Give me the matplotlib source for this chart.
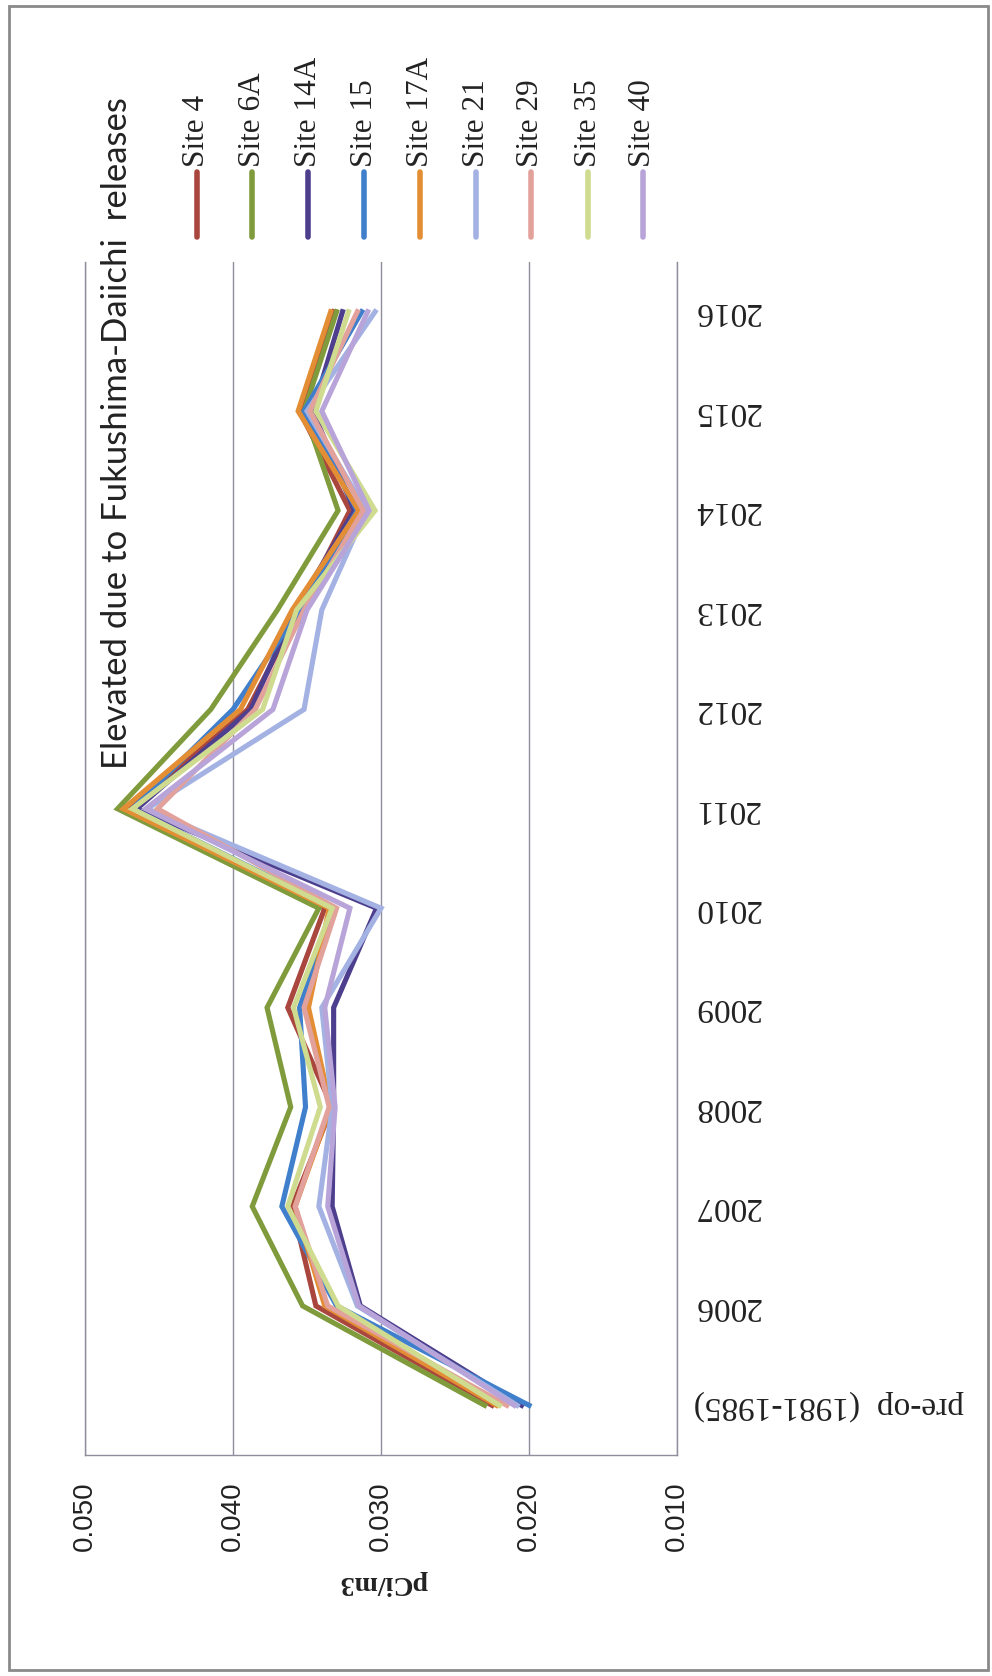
import numpy as np
import matplotlib.pyplot as plt
from matplotlib.lines import Line2D
from matplotlib.patches import Rectangle

years = ['pre-op  (1981-1985)', '2006', '2007', '2008', '2009', '2010',
         '2011', '2012', '2013', '2014', '2015', '2016']
sites = ['Site 4', 'Site 6A', 'Site 14A', 'Site 15', 'Site 17A',
         'Site 21', 'Site 29', 'Site 35', 'Site 40']
colors = ['#A9473F', '#7F9B3C', '#4E3F8E', '#3F7FCC', '#E38D35',
          '#A3B2E3', '#E2A19A', '#CFDC90', '#B8A4D8']

# pCi/m3, one list per site, pre-op .. 2016
site_4   = [0.0225, 0.0344, 0.0360, 0.0333, 0.0363, 0.0338, 0.0470, 0.0390, 0.0355, 0.0321, 0.0355, 0.0332]
site_6a  = [0.0230, 0.0353, 0.0387, 0.0361, 0.0377, 0.0342, 0.0478, 0.0415, 0.0370, 0.0329, 0.0352, 0.0330]
site_14a = [0.0205, 0.0314, 0.0333, 0.0332, 0.0332, 0.0303, 0.0465, 0.0388, 0.0358, 0.0318, 0.0346, 0.0326]
site_15  = [0.0200, 0.0330, 0.0367, 0.0351, 0.0355, 0.0332, 0.0468, 0.0400, 0.0355, 0.0316, 0.0352, 0.0313]
site_17a = [0.0222, 0.0338, 0.0358, 0.0334, 0.0349, 0.0335, 0.0474, 0.0395, 0.0360, 0.0315, 0.0356, 0.0334]
site_21  = [0.0208, 0.0316, 0.0342, 0.0333, 0.0340, 0.0300, 0.0458, 0.0352, 0.0340, 0.0310, 0.0350, 0.0304]
site_29  = [0.0215, 0.0336, 0.0358, 0.0335, 0.0352, 0.0330, 0.0451, 0.0385, 0.0352, 0.0312, 0.0348, 0.0316]
site_35  = [0.0220, 0.0329, 0.0363, 0.0341, 0.0359, 0.0333, 0.0468, 0.0380, 0.0357, 0.0304, 0.0344, 0.0322]
site_40  = [0.0210, 0.0315, 0.0336, 0.0331, 0.0338, 0.0321, 0.0459, 0.0373, 0.0350, 0.0308, 0.0340, 0.0309]
values = [site_4, site_6a, site_14a, site_15, site_17a, site_21, site_29, site_35, site_40]

xticks = [0.050, 0.040, 0.030, 0.020, 0.010]
xticklabels = ['0.050', '0.040', '0.030', '0.020', '0.010']

W, H = 992, 1676
fig = plt.figure(figsize=(W / 100, H / 100), dpi=100)
ax = fig.add_axes([85 / W, 1 - 1455 / H, (677 - 85) / W, (1455 - 262) / H])

pos = np.arange(len(years))
for v, c in zip(values, colors):
    ax.plot(v, pos, '-', color=c, linewidth=3.7, solid_joinstyle='miter')

ax.set_xlim(0.050, 0.010)
ax.set_ylim(-0.5, len(years) - 0.5)

gc = '#8e8e9c'
ax.set_xticks(xticks)
ax.set_xticklabels(xticklabels, rotation=90, va='top', ha='center',
                   fontsize=20, family='Liberation Sans', color='#222222')
ax.tick_params(axis='x', length=0, pad=19)
ax.grid(axis='x', color=gc, linewidth=1.0)
ax.set_axisbelow(True)

ax.yaxis.tick_right()
ax.set_yticks(pos)
ax.set_yticklabels(years, rotation=180, va='center', ha='left',
                   fontsize=24, family='Liberation Serif', color='#222222')
ax.tick_params(axis='y', length=0, pad=12)

ax.spines['top'].set_visible(False)
for s in ['left', 'right', 'bottom']:
    ax.spines[s].set_color(gc)
    ax.spines[s].set_linewidth(1.0)

# value axis title (upside down in the scan)
fig.text(383 / W, 1 - 1582 / H, 'pCi/m3', rotation=180, ha='center', va='center',
         fontsize=20, fontweight='bold', family='Liberation Serif', color='#222222')

# annotation
fig.text(117 / W, 1 - 433 / H, 'Elevated due to Fukushima-Daiichi  releases',
         rotation=90, ha='center', va='center', fontsize=25, family='Lato',
         color='#222222')

# legend, drawn as vertical entries above the plot
leg_x = [197, 252, 308, 364, 420, 476, 531, 588, 643]
for lx, name, c in zip(leg_x, sites, colors):
    fig.add_artist(Line2D([lx / W, lx / W], [1 - 237 / H, 1 - 172 / H],
                          color=c, linewidth=4, solid_capstyle='round'))
    fig.text(lx / W, 1 - 167 / H, name, rotation=90, ha='center', va='bottom',
             fontsize=22.5, family='Liberation Serif', color='#222222')

fig.add_artist(Rectangle((9 / W, 6 / H), (988 - 9) / W, (1670 - 6) / H,
                         transform=fig.transFigure, fill=False,
                         edgecolor='#8a8a8a', linewidth=2))

fig.savefig('out.png', dpi=100)
